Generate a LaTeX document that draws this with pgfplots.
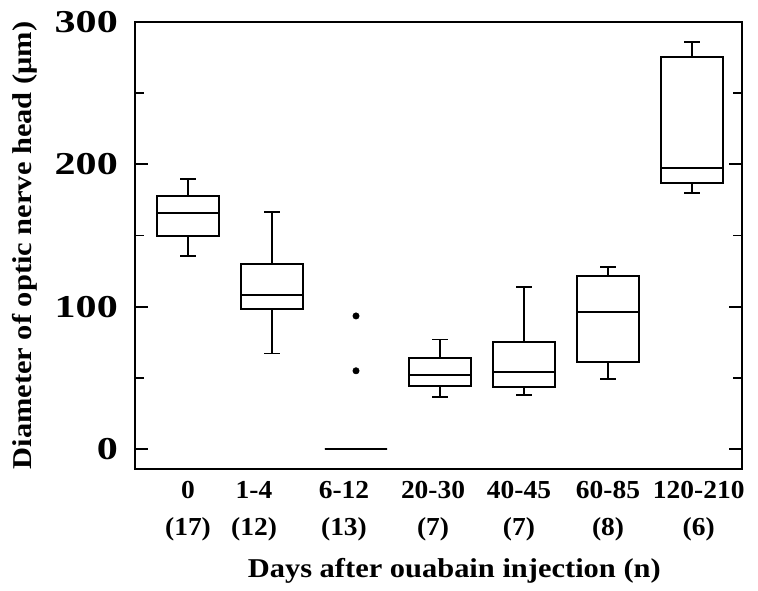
\documentclass[border=0pt]{standalone}
\usepackage{fontspec}
\setmainfont{Liberation Serif}
\newfontfamily\lblfont{Liberation Serif}[FakeStretch=1.12]
\newfontfamily\catfont{Liberation Serif}[FakeStretch=1.06]
\newfontfamily\tickfont{Liberation Serif}[FakeStretch=1.32]
\usepackage{pgfplots}
\pgfplotsset{compat=1.18}
\usepgfplotslibrary{statistics}
\begin{document}
\begin{tikzpicture}
\useasboundingbox (-135bp,-122bp) rectangle (623bp,469bp);
\begin{axis}[
  at={(0,0)}, anchor=south west,
  scale only axis, width=607bp, height=447bp,
  xmin=-0.631, xmax=6.595, ymin=-14, ymax=300,
  axis line style={line width=1.8bp, black},
  tick align=inside,
  ytick={0,100,200,300}, yticklabels={0,100,200,300},
  minor ytick={50,150,250},
  major tick length=13bp, minor tick length=9bp,
  tick style={line width=1.8bp, black},
  xtick={0,0.786,1.857,2.917,3.94,5.0,6.08},
  xticklabels={{0\\(17)},{1-4\\(12)},{6-12\\(13)},{20-30\\(7)},{40-45\\(7)},{60-85\\(8)},{120-210\\(6)}},
  x tick style={draw=none},
  xticklabel style={font=\catfont\bfseries\fontsize{26}{37}\selectfont, align=center, anchor=north, inner sep=0pt, yshift=-12bp},
  yticklabel style={font=\tickfont\bfseries\fontsize{32}{32}\selectfont, anchor=east, inner sep=0pt, xshift=-17bp},
  every axis y label/.style={at={(axis description cs:-0.181,0.5)}, rotate=90, anchor=center, font=\lblfont\bfseries\fontsize{27.3}{27}\selectfont},
  every axis x label/.style={at={(axis description cs:0.526,-0.2438)}, anchor=base, font=\lblfont\bfseries\fontsize{27.3}{27}\selectfont},
  xlabel={Days after ouabain injection (n)},
  ylabel={Diameter of optic nerve head (μm)},
  boxplot/draw direction=y,
]
\addplot[black, line width=1.8bp, boxplot prepared={draw position=0, lower whisker=135.8, lower quartile=149.7, median=166, upper quartile=177.8, upper whisker=189.5, box extend=0.74, whisker extend=0.18}] coordinates {};
\addplot[black, line width=1.8bp, boxplot prepared={draw position=1, lower whisker=67.2, lower quartile=98.2, median=108.2, upper quartile=129.8, upper whisker=166.5, box extend=0.74, whisker extend=0.18}] coordinates {};
\addplot[black, line width=1.8bp, mark=*, mark size=3.2bp, mark options={fill=black, line width=0.5bp}, boxplot prepared={draw position=2, lower whisker=0, lower quartile=0, median=0, upper quartile=0, upper whisker=0, box extend=0.74, whisker extend=0.74}] coordinates {(0,93.5) (0,55)};
\addplot[black, line width=1.8bp, boxplot prepared={draw position=3, lower whisker=36.3, lower quartile=44.5, median=52, upper quartile=63.7, upper whisker=77, box extend=0.74, whisker extend=0.18}] coordinates {};
\addplot[black, line width=1.8bp, boxplot prepared={draw position=4, lower whisker=38.2, lower quartile=43.6, median=54.3, upper quartile=75.4, upper whisker=114, box extend=0.74, whisker extend=0.18}] coordinates {};
\addplot[black, line width=1.8bp, boxplot prepared={draw position=5, lower whisker=49, lower quartile=61.4, median=96.5, upper quartile=121.6, upper whisker=128, box extend=0.74, whisker extend=0.18}] coordinates {};
\addplot[black, line width=1.8bp, boxplot prepared={draw position=6, lower whisker=180.1, lower quartile=187.1, median=197.7, upper quartile=275.2, upper whisker=285.8, box extend=0.74, whisker extend=0.18}] coordinates {};
\end{axis}
\end{tikzpicture}
\end{document}
